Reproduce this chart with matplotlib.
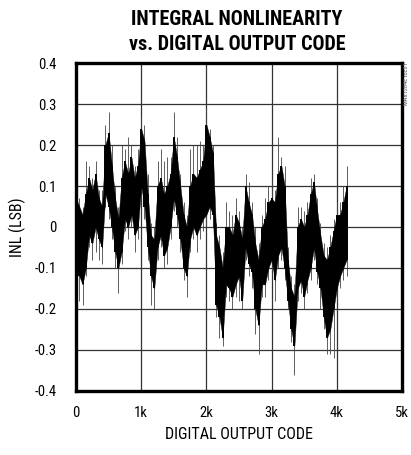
#!/usr/bin/env python3
"""INL vs. digital output code, redrawn from a datasheet plot."""

import numpy as np
import matplotlib
matplotlib.use('Agg')
import matplotlib.pyplot as plt

plt.rcParams['font.family'] = ['Roboto Condensed', 'DejaVu Sans']

# .:: DATA (every 50 codes) ::.
codes = np.arange(0, 4200, 50)

# dense part of the trace, upper / lower edge (LSB)
band_hi = [0.07, 0.05, 0.03, 0.08, 0.12, 0.09, 0.13, 0.07, 0.05, 0.20,
           0.23, 0.15, 0.07, 0.02, 0.12, 0.16, 0.13, 0.17, 0.12, 0.15,
           0.24, 0.21, 0.08, -0.02, -0.03, 0.10, 0.12, 0.08, 0.10, 0.13,
           0.22, 0.17, 0.10, 0.03, 0.00, 0.10, 0.13, 0.12, 0.14, 0.16,
           0.25, 0.22, 0.18, -0.02, -0.05, -0.10, 0.00, 0.00, -0.02, 0.03,
           0.01, -0.03, 0.10, 0.06, 0.03, -0.04, -0.08, 0.00, 0.02, 0.06,
           0.07, 0.06, 0.13, 0.15, 0.10, -0.08, -0.15, -0.17, 0.00, 0.02,
           0.00, 0.03, 0.08, 0.11, 0.04, -0.02, -0.07, -0.08, -0.05, -0.01,
           0.03, 0.03, 0.06, 0.10]
band_lo = [-0.09, -0.12, -0.14, -0.10, -0.02, -0.04, 0.00, -0.03, -0.05, 0.08,
           0.05, 0.00, -0.06, -0.10, -0.06, 0.02, 0.00, 0.03, -0.02, 0.00,
           0.10, 0.05, -0.05, -0.12, -0.15, -0.05, -0.02, -0.07, -0.05, 0.00,
           0.07, 0.03, -0.03, -0.10, -0.12, -0.03, 0.00, -0.02, 0.00, 0.02,
           0.03, 0.05, 0.03, -0.19, -0.22, -0.27, -0.14, -0.15, -0.17, -0.14,
           -0.12, -0.18, -0.05, -0.09, -0.11, -0.20, -0.24, -0.14, -0.14, -0.10,
           -0.08, -0.13, -0.07, -0.05, -0.10, -0.18, -0.25, -0.29, -0.15, -0.13,
           -0.17, -0.13, -0.10, -0.05, -0.11, -0.15, -0.22, -0.27, -0.25, -0.20,
           -0.15, -0.12, -0.10, -0.08]

# isolated spikes beyond the dense part
spike_hi = [0.09, 0.07, 0.05, 0.16, 0.15, 0.12, 0.16, 0.09, 0.09, 0.25,
            0.28, 0.20, 0.10, 0.05, 0.20, 0.19, 0.22, 0.20, 0.15, 0.19,
            0.27, 0.25, 0.13, 0.01, 0.00, 0.16, 0.19, 0.16, 0.17, 0.17,
            0.28, 0.22, 0.13, 0.06, 0.03, 0.19, 0.20, 0.20, 0.21, 0.20,
            0.29, 0.24, 0.20, 0.01, -0.02, -0.06, 0.06, 0.04, 0.03, 0.07,
            0.04, 0.00, 0.13, 0.11, 0.06, 0.00, -0.04, 0.03, 0.07, 0.10,
            0.12, 0.09, 0.22, 0.17, 0.15, -0.05, -0.12, -0.14, 0.05, 0.05,
            0.04, 0.06, 0.12, 0.13, 0.07, 0.01, -0.04, -0.05, -0.02, 0.02,
            0.06, 0.06, 0.10, 0.15]
spike_lo = [-0.12, -0.18, -0.19, -0.12, -0.05, -0.08, -0.06, -0.08, -0.09, 0.05,
            0.02, -0.03, -0.10, -0.16, -0.09, -0.01, -0.03, 0.00, -0.06, -0.03,
            0.07, 0.02, -0.08, -0.19, -0.20, -0.08, -0.05, -0.10, -0.09, -0.03,
            0.04, 0.00, -0.06, -0.13, -0.17, -0.06, -0.03, -0.06, -0.03, -0.01,
            0.00, 0.02, 0.00, -0.22, -0.27, -0.29, -0.17, -0.18, -0.20, -0.17,
            -0.18, -0.20, -0.08, -0.12, -0.15, -0.26, -0.31, -0.17, -0.17, -0.13,
            -0.11, -0.18, -0.10, -0.08, -0.13, -0.20, -0.28, -0.36, -0.18, -0.16,
            -0.20, -0.16, -0.13, -0.08, -0.14, -0.20, -0.25, -0.31, -0.31, -0.32,
            -0.18, -0.15, -0.13, -0.12]

x_ticks = [0, 1000, 2000, 3000, 4000, 5000]
x_labels = ['0', '1k', '2k', '3k', '4k', '5k']
y_ticks = [-0.4, -0.3, -0.2, -0.1, 0, 0.1, 0.2, 0.3, 0.4]
y_labels = ['-0.4', '-0.3', '-0.2', '-0.1', '0', '0.1', '0.2', '0.3', '0.4']

fig = plt.figure(figsize=(4.11, 4.55), dpi=100)
ax = fig.add_axes([0.185, 0.1407, 0.793, 0.7208])

# thin outliers, then the dense body of the trace
ax.vlines(codes, spike_lo, spike_hi, color='#444444', linewidth=0.6, zorder=2)
ax.fill_between(codes, band_lo, band_hi, color='black', linewidth=0.3, zorder=3)
ax.vlines(codes, band_lo, band_hi, color='black', linewidth=1.4, zorder=3)

ax.set_xlim(0, 5000)
ax.set_ylim(-0.4, 0.4)
ax.set_xticks(x_ticks)
ax.set_xticklabels(x_labels)
ax.set_yticks(y_ticks)
ax.set_yticklabels(y_labels)
ax.tick_params(length=0, labelsize=10.5, colors='black')
ax.tick_params(axis='y', pad=14)
ax.tick_params(axis='x', pad=11)
ax.grid(True, color='#333333', linewidth=0.9)
ax.set_axisbelow(True)
for spine in ax.spines.values():
    spine.set_linewidth(2.4)

ax.set_xlabel('DIGITAL OUTPUT CODE', fontsize=11.5, labelpad=5)
ax.set_ylabel('INL (LSB)', fontsize=11.5, labelpad=6)

fig.text(0.577, 0.958, 'INTEGRAL NONLINEARITY', ha='center', va='center',
         fontsize=14.5, fontweight='bold')
fig.text(0.577, 0.903, 'vs. DIGITAL OUTPUT CODE', ha='center', va='center',
         fontsize=14.5, fontweight='bold')
fig.text(0.988, 0.862, 'MAX1284E toc01', rotation=90, ha='center', va='top',
         fontsize=4.5, color='#555555')

fig.savefig('out.png', dpi=100)
